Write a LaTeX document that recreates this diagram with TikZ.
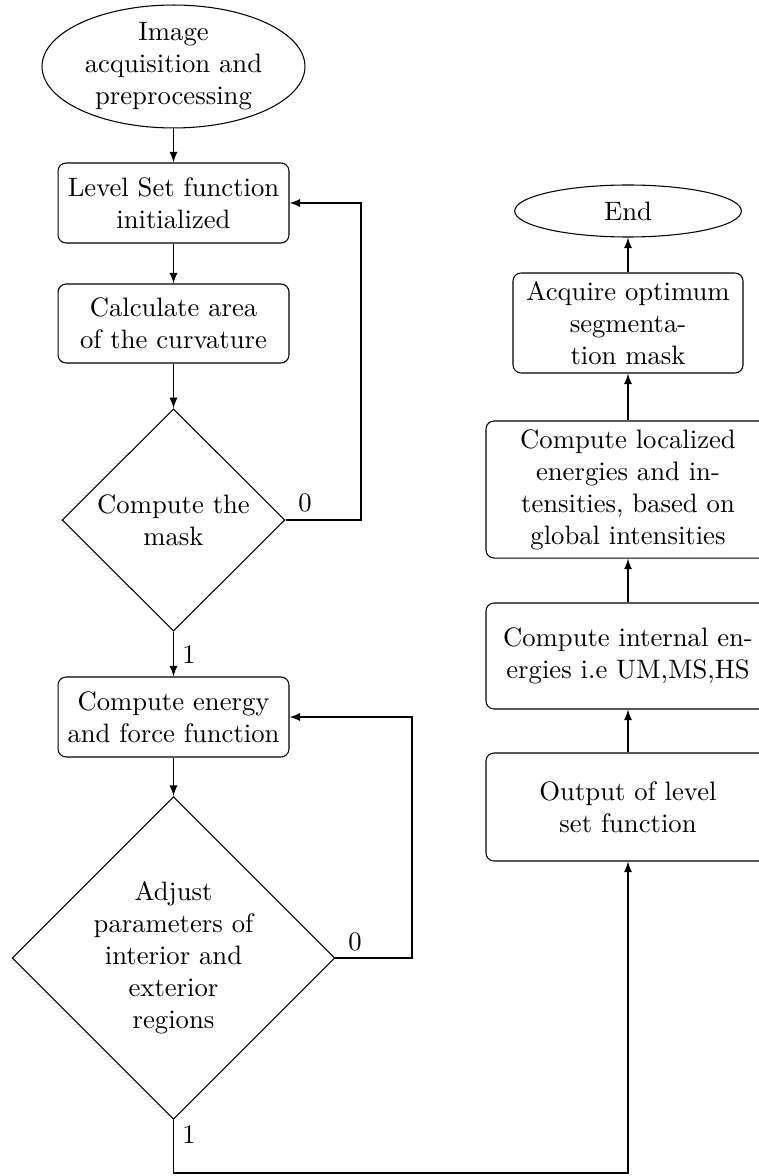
\documentclass[tikz,border=0pt]{standalone}
\usetikzlibrary{shapes.geometric}
\begin{document}
\begin{tikzpicture}[x=0.375pt,y=-0.375pt,
  box/.style={draw, rounded corners=3pt, align=center, inner sep=0pt},
  oval/.style={draw, ellipse, align=center, inner xsep=0pt, inner ysep=-3pt},
  dec/.style={draw, diamond, align=center, inner sep=0pt},
  arr/.style={-latex},
  lbl/.style={inner sep=0pt}]
\useasboundingbox (0,0) rectangle (759,1176);
\clip (0,0) rectangle (759,1176);
% left column
\node[oval, minimum width=98.6pt, minimum height=46.1pt] (start) at (173.5,66.5) {Image\\acquisition and\\preprocessing};
\node[box, minimum width=86.6pt, minimum height=30pt] (b1) at (173.5,203) {Level Set function\\initialized};
\node[box, minimum width=86.6pt, minimum height=29.6pt] (b2) at (173.5,323.5) {Calculate area\\of the curvature};
\node[dec, minimum width=83.6pt, minimum height=83.3pt] (d1) at (173.5,520) {Compute the\\mask};
\node[box, minimum width=86.6pt, minimum height=30pt] (b3) at (173.5,717) {Compute energy\\and force function};
\node[dec, minimum width=121pt, minimum height=121pt] (d2) at (173.5,958) {Adjust\\parameters of\\interior and\\exterior\\regions};
% right column
\node[oval, minimum width=85pt, minimum height=19.5pt] (end) at (628,211) {End};
\node[box, minimum width=86.25pt, minimum height=37.5pt] (acq) at (628,323) {Acquire optimum\\segmenta-\\tion mask};
\node[box, minimum width=106.5pt, minimum height=51.4pt] (loc) at (628,489.5) {Compute localized\\energies and in-\\tensities, based on\\global intensities};
\node[box, minimum width=106.5pt, minimum height=39.75pt] (int) at (628,656) {Compute internal en-\\ergies i.e UM,MS,HS};
\node[box, minimum width=106.5pt, minimum height=40.5pt] (out) at (628,807) {Output of level\\set function};
% labels
\node[lbl] (z1) at (305,503) {0};
\node[lbl] (o1) at (189,655) {1};
\node[lbl] (z2) at (355,942) {0};
\node[lbl] (o2) at (189,1135) {1};
% helper coordinates
\coordinate (c1) at (361,0);
\coordinate (c2) at (412,0);
\coordinate (c3) at (0,1173);
% connectors
\draw[arr] (start) -- (b1);
\draw[arr] (b1) -- (b2);
\draw[arr] (b2) -- (d1);
\draw[arr] (d1) -- (b3);
\draw[arr] (b3) -- (d2);
\draw[arr] (d1.east) -- (d1.east -| c1) |- (b1.east);
\draw[arr] (d2.east) -- (d2.east -| c2) |- (b3.east);
\draw[arr] (d2.south) -- (d2.south |- c3) -| (out.south);
\draw[arr] (out) -- (int);
\draw[arr] (int) -- (loc);
\draw[arr] (loc) -- (acq);
\draw[arr] (acq) -- (end);
\end{tikzpicture}
\end{document}
